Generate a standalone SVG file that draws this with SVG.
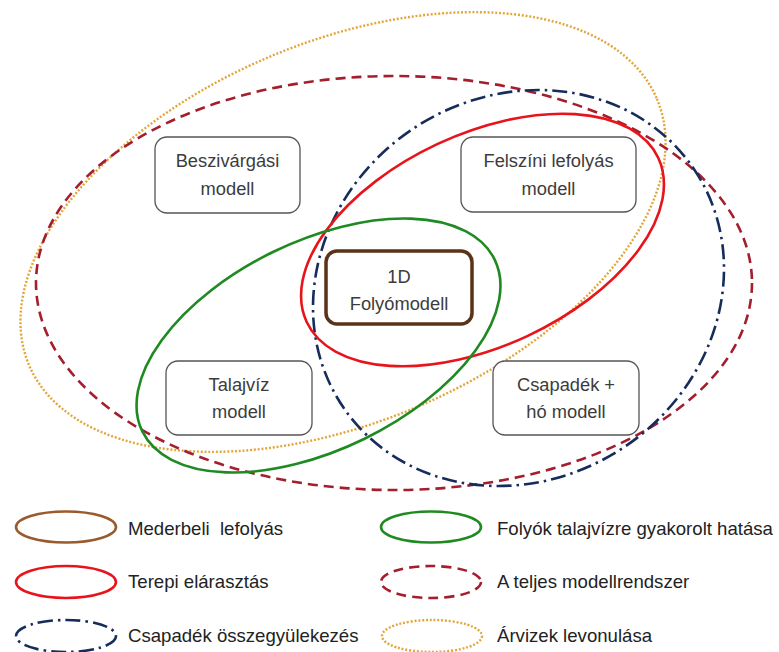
<svg xmlns="http://www.w3.org/2000/svg" width="779" height="652" viewBox="0 0 779 652">
<style>
.set{fill:none;stroke-width:2.6}
.red{stroke:#e8141b}
.green{stroke:#1f8a22}
.blue{stroke:#162d5c;stroke-dasharray:15 5 2.5 5}
.dred{stroke:#a51e2d;stroke-dasharray:10 6}
.orange{stroke:#e2a63c;stroke-dasharray:2 1.8;stroke-width:2.4}
.brown{stroke:#9b5a2c}
.box{fill:#fff;stroke:#555;stroke-width:1.3}
.core{fill:#fff;stroke:#5a3319;stroke-width:3.5}
.bt{font-family:"Liberation Sans",Arial,sans-serif;font-size:18.3px;fill:#3c3c3c;text-anchor:middle}
.lt{font-family:"Liberation Sans",Arial,sans-serif;font-size:18.6px;fill:#222;white-space:pre}
</style>
<rect width="779" height="652" fill="#fff"/>
<g id="sets">
  <ellipse id="set-arvizek" class="set orange" cx="343" cy="232" rx="341" ry="190" transform="rotate(-23 343 232)"/>
  <ellipse id="set-teljes" class="set dred" cx="394" cy="283" rx="358" ry="207"/>
  <ellipse id="set-csapadek" class="set blue" cx="518.5" cy="288" rx="212" ry="191" transform="rotate(-34.5 518.5 288)"/>
  <ellipse id="set-terepi" class="set red" cx="482.5" cy="240" rx="194" ry="106" transform="rotate(-25 482.5 240)"/>
  <ellipse id="set-folyok" class="set green" cx="318.5" cy="345.5" rx="196" ry="104" transform="rotate(-26 318.5 345.5)"/>
</g>
<g id="beszivargasi">
  <rect class="box" x="155" y="137" width="145" height="76" rx="12"/>
  <text class="bt" x="227.5" y="167">Beszivárgási</text>
  <text class="bt" x="227.5" y="195">modell</text>
</g>
<g id="felszini">
  <rect class="box" x="461" y="137" width="175" height="75" rx="12"/>
  <text class="bt" x="548.5" y="167">Felszíni lefolyás</text>
  <text class="bt" x="548.5" y="195">modell</text>
</g>
<g id="folyomodell">
  <rect class="core" x="326" y="251" width="146" height="73" rx="11"/>
  <text class="bt" x="399" y="283">1D</text>
  <text class="bt" x="399" y="310">Folyómodell</text>
</g>
<g id="talajviz">
  <rect class="box" x="166" y="361" width="146" height="74" rx="12"/>
  <text class="bt" x="239" y="391">Talajvíz</text>
  <text class="bt" x="239" y="418">modell</text>
</g>
<g id="csapadek-ho">
  <rect class="box" x="493" y="361" width="146" height="74" rx="12"/>
  <text class="bt" x="566" y="391">Csapadék +</text>
  <text class="bt" x="566" y="418">hó modell</text>
</g>
<g id="legend">
  <ellipse class="set brown" cx="66" cy="527" rx="50" ry="15.5"/>
  <text class="lt" x="128" y="535" xml:space="preserve">Mederbeli  lefolyás</text>
  <ellipse class="set green" cx="431" cy="527" rx="50" ry="15.5"/>
  <text class="lt" x="497" y="535">Folyók talajvízre gyakorolt hatása</text>
  <ellipse class="set red" cx="66" cy="582" rx="50" ry="16"/>
  <text class="lt" x="128" y="588">Terepi elárasztás</text>
  <ellipse class="set dred" cx="431" cy="582" rx="50" ry="16"/>
  <text class="lt" x="497" y="588">A teljes modellrendszer</text>
  <ellipse class="set blue" cx="66" cy="636" rx="50" ry="16"/>
  <text class="lt" x="128" y="642">Csapadék összegyülekezés</text>
  <ellipse class="set orange" cx="432" cy="636" rx="50" ry="16"/>
  <text class="lt" x="497" y="642">Árvizek levonulása</text>
</g>
</svg>
